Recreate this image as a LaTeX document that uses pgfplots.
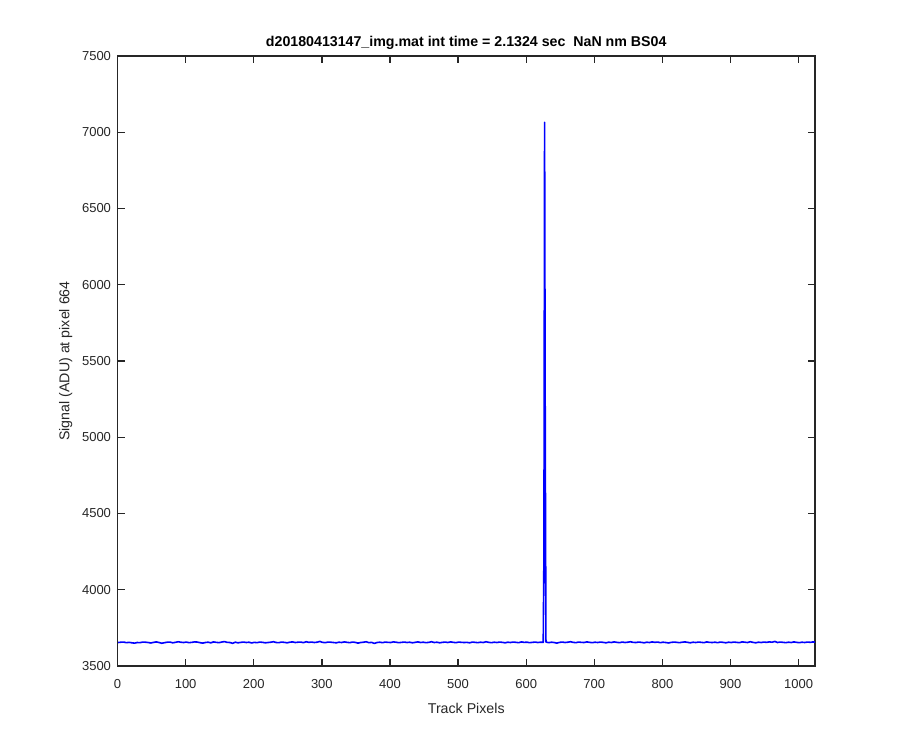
\documentclass[border=0pt]{standalone}
\usepackage{pgfplots}
\pgfplotsset{compat=1.18}
\usepackage{fontspec}
\setmainfont{Liberation Sans}
\definecolor{axgray}{rgb}{0.15,0.15,0.15}
\begin{document}
\begin{tikzpicture}[x=1bp,y=1bp]
\path[use as bounding box] (0,0) rectangle (900,750);
\begin{axis}[
  at={(117.5bp,84bp)}, anchor=south west,
  scale only axis, width=697.5bp, height=610bp,
  xmin=0, xmax=1024, ymin=3500, ymax=7500,
  xtick={0,100,...,1000}, ytick={3500,4000,...,7500},
  /pgf/number format/1000 sep={},
  /pgf/number format/assume math mode=true,
  tick label style={font=\fontsize{13bp}{15bp}\selectfont, text=axgray},
  xticklabel style={yshift=-10bp},
  yticklabel style={xshift=-3bp},
  axis line style={axgray, line width=1.8bp},
  tick style={axgray, line width=1.3bp},
  major tick length=7bp,
  tick align=inside,
  xtick pos=both, ytick pos=both,
  xticklabel pos=bottom, yticklabel pos=left,
  title={\bfseries d20180413147\_img.mat int time = 2.1324 sec\ \ NaN nm BS04},
  title style={font=\fontsize{14.2bp}{16bp}\selectfont, text=black, yshift=-3bp},
  xlabel={Track Pixels}, ylabel={Signal (ADU) at pixel 664},
  label style={font=\fontsize{14.2bp}{16bp}\selectfont, text=axgray},
  xlabel style={yshift=-8bp},
  ylabel style={yshift=3bp},
]
\addplot[color=blue, line width=1.6bp, line join=round] table {
x y
1 3654
5 3656
9 3657
13 3653
17 3655
21 3652
25 3650
29 3654
33 3653
37 3657
41 3656
45 3654
49 3651
53 3655
57 3658
61 3654
65 3649
69 3653
73 3656
77 3657
81 3652
85 3655
89 3659
93 3656
97 3654
101 3657
105 3653
109 3655
113 3658
117 3657
121 3653
125 3650
129 3654
133 3656
137 3652
141 3658
145 3655
149 3653
153 3657
157 3660
161 3655
165 3654
169 3649
173 3656
177 3652
181 3655
185 3657
189 3654
193 3656
197 3651
201 3655
205 3653
209 3657
213 3655
217 3652
221 3654
225 3656
229 3659
233 3654
237 3653
241 3657
245 3655
249 3652
253 3656
257 3658
261 3654
265 3656
269 3657
273 3653
277 3659
281 3655
285 3657
289 3654
293 3656
297 3661
301 3655
305 3653
309 3657
313 3656
317 3654
321 3652
325 3656
329 3654
333 3658
337 3655
341 3653
345 3657
349 3655
353 3650
357 3654
361 3656
365 3659
369 3653
373 3655
377 3648
381 3654
385 3656
389 3653
393 3657
397 3655
401 3654
405 3658
409 3656
413 3653
417 3655
421 3657
425 3654
429 3656
433 3652
437 3655
441 3658
445 3654
449 3656
453 3653
457 3655
461 3659
465 3654
469 3656
473 3652
477 3655
481 3657
485 3654
489 3658
493 3655
497 3653
501 3657
505 3655
509 3654
513 3655
517 3652
521 3657
525 3655
529 3653
533 3656
537 3654
541 3659
545 3655
549 3653
553 3656
557 3654
561 3657
565 3655
569 3652
573 3656
577 3654
581 3657
585 3655
589 3653
593 3658
597 3655
601 3656
605 3653
609 3655
613 3657
617 3654
621 3656
624 3656
625 3655
626 4220
627 7065
628 4970
629 3657
633 3653
637 3656
641 3654
645 3650
649 3655
653 3657
657 3654
661 3656
665 3659
669 3655
673 3653
677 3657
681 3655
685 3654
689 3658
693 3655
697 3653
701 3656
705 3654
709 3657
713 3655
717 3652
721 3656
725 3654
729 3658
733 3655
737 3653
741 3657
745 3654
749 3656
753 3659
757 3655
761 3654
765 3657
769 3655
773 3652
777 3656
781 3654
785 3658
789 3655
793 3657
797 3653
801 3656
805 3654
809 3651
813 3655
817 3657
821 3655
825 3653
829 3656
833 3658
837 3655
841 3652
845 3656
849 3654
853 3657
857 3655
861 3653
865 3658
869 3655
873 3654
877 3656
881 3653
885 3657
889 3655
893 3652
897 3656
901 3654
905 3657
909 3655
913 3653
917 3658
921 3656
925 3654
929 3659
933 3655
937 3652
941 3656
945 3654
949 3657
953 3655
957 3658
961 3656
965 3661
969 3654
973 3657
977 3655
981 3653
985 3656
989 3654
993 3658
997 3655
1001 3653
1005 3656
1009 3654
1013 3657
1017 3655
1021 3658
1024 3656
};
\end{axis}
\end{tikzpicture}
\end{document}
